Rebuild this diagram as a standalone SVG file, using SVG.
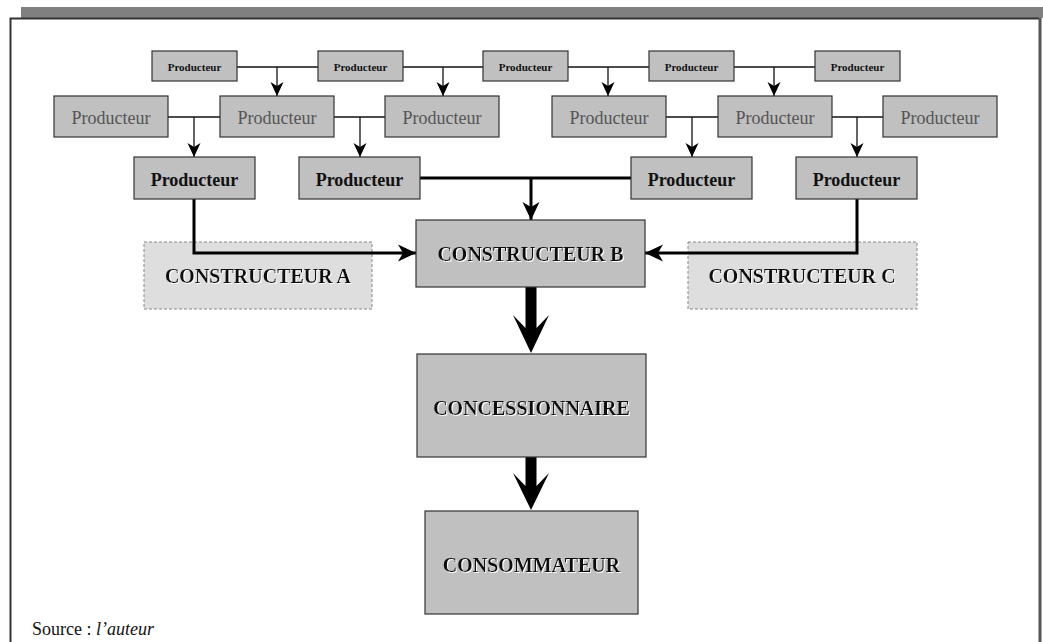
<svg xmlns="http://www.w3.org/2000/svg" width="1043" height="642" viewBox="0 0 1043 642">
<style>
.box{fill:#c0c0c0;stroke:#333;stroke-width:1.2}
.dbox{fill:#dedede;stroke:#888;stroke-width:1;stroke-dasharray:3,2}
.t1{font-family:"Liberation Serif",serif;font-size:11px;font-weight:bold;fill:#111;text-anchor:middle}
.t2{font-family:"Liberation Serif",serif;font-size:18px;fill:#555;text-anchor:middle}
.t3{font-family:"Liberation Serif",serif;font-size:18px;font-weight:bold;fill:#111;text-anchor:middle}
.big{font-family:"Liberation Serif",serif;font-size:20px;font-weight:bold;fill:#111;text-anchor:middle;filter:url(#sh)}
.thin{fill:none;stroke:#111;stroke-width:1.3}
.thick{fill:none;stroke:#000;stroke-width:3}
</style>
<defs>
<filter id="sh" x="-5%" y="-20%" width="110%" height="150%"><feDropShadow dx="1" dy="1" stdDeviation="0" flood-color="#fff" flood-opacity="1"/></filter>
<marker id="ah" viewBox="-15 -8 15 16" markerWidth="15" markerHeight="16" refX="0" refY="0" orient="auto" markerUnits="userSpaceOnUse"><path d="M0,0 L-14,-6.5 L-10,0 L-14,6.5 Z" fill="#000"/></marker>
<marker id="ahb" viewBox="-19 -10 19 20" markerWidth="19" markerHeight="20" refX="0" refY="0" orient="auto" markerUnits="userSpaceOnUse"><path d="M0,0 L-18,-8.5 L-13,0 L-18,8.5 Z" fill="#000"/></marker>
</defs>
<g id="frame">
<rect x="21" y="7" width="1022" height="11" fill="#808080"/>
<path d="M10.5,642 V18.5 H1039" fill="none" stroke="#333" stroke-width="2"/>
<path d="M1040,18 V642" fill="none" stroke="#555" stroke-width="3"/>
</g>
<g id="constructeur-a"><rect class="dbox" x="144" y="242" width="228" height="67"/><text class="big" x="258" y="283">CONSTRUCTEUR A</text></g>
<g id="constructeur-c"><rect class="dbox" x="688" y="242" width="229" height="67"/><text class="big" x="802" y="283">CONSTRUCTEUR C</text></g>
<g id="connectors">
<path class="thin" d="M237,67 H318"/><path class="thin" d="M277,67 V96" marker-end="url(#ah)"/>
<path class="thin" d="M402,67 H483"/><path class="thin" d="M443,67 V96" marker-end="url(#ah)"/>
<path class="thin" d="M568,67 H649"/><path class="thin" d="M608,67 V96" marker-end="url(#ah)"/>
<path class="thin" d="M733,67 H815"/><path class="thin" d="M774,67 V96" marker-end="url(#ah)"/>
<path class="thin" d="M168,117 H220"/><path class="thin" d="M194,117 V157" marker-end="url(#ah)"/>
<path class="thin" d="M334,117 H385"/><path class="thin" d="M360,117 V157" marker-end="url(#ah)"/>
<path class="thin" d="M666,117 H718"/><path class="thin" d="M692,117 V157" marker-end="url(#ah)"/>
<path class="thin" d="M832,117 H883"/><path class="thin" d="M857,117 V157" marker-end="url(#ah)"/>
<path class="thick" d="M420,178 H631"/><path class="thick" d="M531,178 V220" marker-end="url(#ahb)"/>
<path class="thick" d="M194,199 V253 H416" marker-end="url(#ahb)"/>
<path class="thick" d="M857,199 V253 H645" marker-end="url(#ahb)"/>
<path d="M525.5,287 V328 L513,315 L531,353 L549,315 L536.5,328 V287 Z" fill="#000"/>
<path d="M525.5,457 V486 L513,473 L531,510 L549,473 L536.5,486 V457 Z" fill="#000"/>
</g>
<g id="p1-1"><rect class="box" x="152" y="51" width="85" height="30"/><text class="t1" x="194.5" y="71">Producteur</text></g>
<g id="p1-2"><rect class="box" x="318" y="51" width="85" height="30"/><text class="t1" x="360.5" y="71">Producteur</text></g>
<g id="p1-3"><rect class="box" x="483" y="51" width="85" height="30"/><text class="t1" x="525.5" y="71">Producteur</text></g>
<g id="p1-4"><rect class="box" x="649" y="51" width="85" height="30"/><text class="t1" x="691.5" y="71">Producteur</text></g>
<g id="p1-5"><rect class="box" x="815" y="51" width="85" height="30"/><text class="t1" x="857.5" y="71">Producteur</text></g>
<g id="p2-1"><rect class="box" x="54" y="96" width="114" height="41"/><text class="t2" x="111" y="124">Producteur</text></g>
<g id="p2-2"><rect class="box" x="220" y="96" width="114" height="41"/><text class="t2" x="277" y="124">Producteur</text></g>
<g id="p2-3"><rect class="box" x="385" y="96" width="114" height="41"/><text class="t2" x="442" y="124">Producteur</text></g>
<g id="p2-4"><rect class="box" x="552" y="96" width="114" height="41"/><text class="t2" x="609" y="124">Producteur</text></g>
<g id="p2-5"><rect class="box" x="718" y="96" width="114" height="41"/><text class="t2" x="775" y="124">Producteur</text></g>
<g id="p2-6"><rect class="box" x="883" y="96" width="114" height="41"/><text class="t2" x="940" y="124">Producteur</text></g>
<g id="p3-1"><rect class="box" x="134" y="157" width="121" height="42"/><text class="t3" x="194.5" y="186">Producteur</text></g>
<g id="p3-2"><rect class="box" x="299" y="157" width="121" height="42"/><text class="t3" x="359.5" y="186">Producteur</text></g>
<g id="p3-3"><rect class="box" x="631" y="157" width="121" height="42"/><text class="t3" x="691.5" y="186">Producteur</text></g>
<g id="p3-4"><rect class="box" x="796" y="157" width="121" height="42"/><text class="t3" x="856.5" y="186">Producteur</text></g>
<g id="constructeur-b"><rect class="box" x="416" y="220" width="229" height="67"/><text class="big" x="530.5" y="261">CONSTRUCTEUR B</text></g>
<g id="concessionnaire"><rect class="box" x="417" y="354" width="229" height="103"/><text class="big" x="531.5" y="415">CONCESSIONNAIRE</text></g>
<g id="consommateur"><rect class="box" x="425" y="511" width="213" height="103"/><text class="big" x="531.5" y="572">CONSOMMATEUR</text></g>
<g id="source"><text x="32" y="635" font-family="Liberation Serif, serif" font-size="18" fill="#111">Source : <tspan font-style="italic">l’auteur</tspan></text></g>
</svg>
